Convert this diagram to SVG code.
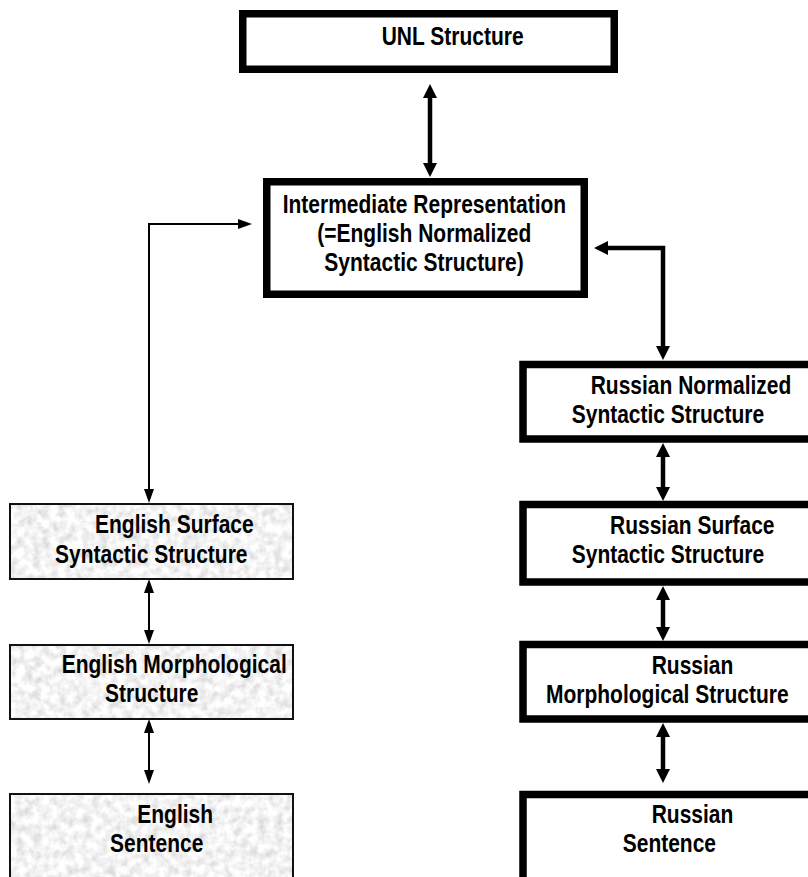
<svg xmlns="http://www.w3.org/2000/svg" width="808" height="877" viewBox="0 0 808 877">
<style>
.t{font-family:"Liberation Sans",Arial,Helvetica,sans-serif;font-weight:bold;font-size:25px;fill:#000}
.bold{fill:#fff;stroke:#000;stroke-width:7.5}
.thinbox{fill:none;stroke:#111;stroke-width:2}
.tex{fill:#fff}
.ck{fill:none;stroke:#000;stroke-width:4.5;stroke-linejoin:miter;marker-start:url(#ah);marker-end:url(#ah)}
.cn{fill:none;stroke:#000;stroke-width:2;marker-start:url(#as);marker-end:url(#as)}
</style>
<defs>
<marker id="ah" markerUnits="userSpaceOnUse" markerWidth="15" markerHeight="15" refX="3" refY="7" orient="auto-start-reverse" viewBox="0 0 15 14">
<path d="M0,0 L14,7 L0,14 z" fill="#000"/>
</marker>
<marker id="as" markerUnits="userSpaceOnUse" markerWidth="15" markerHeight="11" refX="2" refY="5" orient="auto-start-reverse" viewBox="0 0 15 10">
<path d="M0,0 L14,5 L0,10 z" fill="#000"/>
</marker>
<filter id="granite" x="0" y="0" width="1" height="1">
<feTurbulence type="fractalNoise" baseFrequency="0.12" numOctaves="3" seed="4" result="n"/>
<feColorMatrix in="n" type="matrix" values="0.6 0 0 0 0.6  0.6 0 0 0 0.6  0.6 0 0 0 0.6  0 0 0 0 1" result="g"/>
<feComposite in="g" in2="SourceGraphic" operator="in"/>
</filter>
</defs>
<rect width="808" height="877" fill="#fff"/>

<g id="connectors">
<path class="ck" d="M430,95 V166"/>
<path class="cn" d="M149,491 V224 H240"/>
<path class="ck" d="M605,248 H663 V349"/>
<path class="ck" d="M663,454 V490"/>
<path class="ck" d="M663,597 V630"/>
<path class="ck" d="M663,734 V772"/>
<path class="cn" d="M149,591 V632"/>
<path class="cn" d="M149,731 V772"/>
</g>

<g id="unl">
<rect class="bold" x="242.75" y="13.75" width="371.5" height="55.5"/>
<text class="t" transform="translate(381.7,45) scale(0.84,1)">UNL Structure</text>
</g>

<g id="intermediate">
<rect class="bold" x="266.75" y="181.75" width="317.5" height="112.5"/>
<text class="t" transform="translate(282.7,213) scale(0.84,1)">Intermediate Representation</text>
<text class="t" transform="translate(317.3,241.7) scale(0.84,1)">(=English Normalized</text>
<text class="t" transform="translate(324.3,270.7) scale(0.84,1)">Syntactic Structure)</text>
</g>

<g id="russian-normalized">
<rect class="bold" x="523" y="364.5" width="300" height="74.5"/>
<text class="t" transform="translate(590.7,394) scale(0.84,1)">Russian Normalized</text>
<text class="t" transform="translate(571.7,423.3) scale(0.84,1)">Syntactic Structure</text>
</g>

<g id="russian-surface">
<rect class="bold" x="523" y="504.5" width="300" height="77.5"/>
<text class="t" transform="translate(610,534) scale(0.84,1)">Russian Surface</text>
<text class="t" transform="translate(571.7,563.3) scale(0.84,1)">Syntactic Structure</text>
</g>

<g id="russian-morphological">
<rect class="bold" x="523" y="644.5" width="300" height="74.5"/>
<text class="t" transform="translate(651.7,674) scale(0.84,1)">Russian</text>
<text class="t" transform="translate(546,703.3) scale(0.84,1)">Morphological Structure</text>
</g>

<g id="russian-sentence">
<rect class="bold" x="523" y="794.5" width="300" height="100"/>
<text class="t" transform="translate(651.7,823.3) scale(0.84,1)">Russian</text>
<text class="t" transform="translate(622.7,851.7) scale(0.84,1)">Sentence</text>
</g>

<g id="english-surface">
<rect class="tex" x="10" y="504" width="283" height="75" filter="url(#granite)"/>
<rect class="thinbox" x="10" y="504" width="283" height="75"/>
<text class="t" transform="translate(95,533.3) scale(0.84,1)">English Surface</text>
<text class="t" transform="translate(55,562.7) scale(0.84,1)">Syntactic Structure</text>
</g>

<g id="english-morphological">
<rect class="tex" x="10" y="645" width="283" height="74" filter="url(#granite)"/>
<rect class="thinbox" x="10" y="645" width="283" height="74"/>
<text class="t" transform="translate(61.7,673.3) scale(0.84,1)">English Morphological</text>
<text class="t" transform="translate(105,701.7) scale(0.84,1)">Structure</text>
</g>

<g id="english-sentence">
<rect class="tex" x="10" y="794" width="283" height="100" filter="url(#granite)"/>
<rect class="thinbox" x="10" y="794" width="283" height="100"/>
<text class="t" transform="translate(137.3,822.7) scale(0.84,1)">English</text>
<text class="t" transform="translate(110,851.7) scale(0.84,1)">Sentence</text>
</g>
</svg>
